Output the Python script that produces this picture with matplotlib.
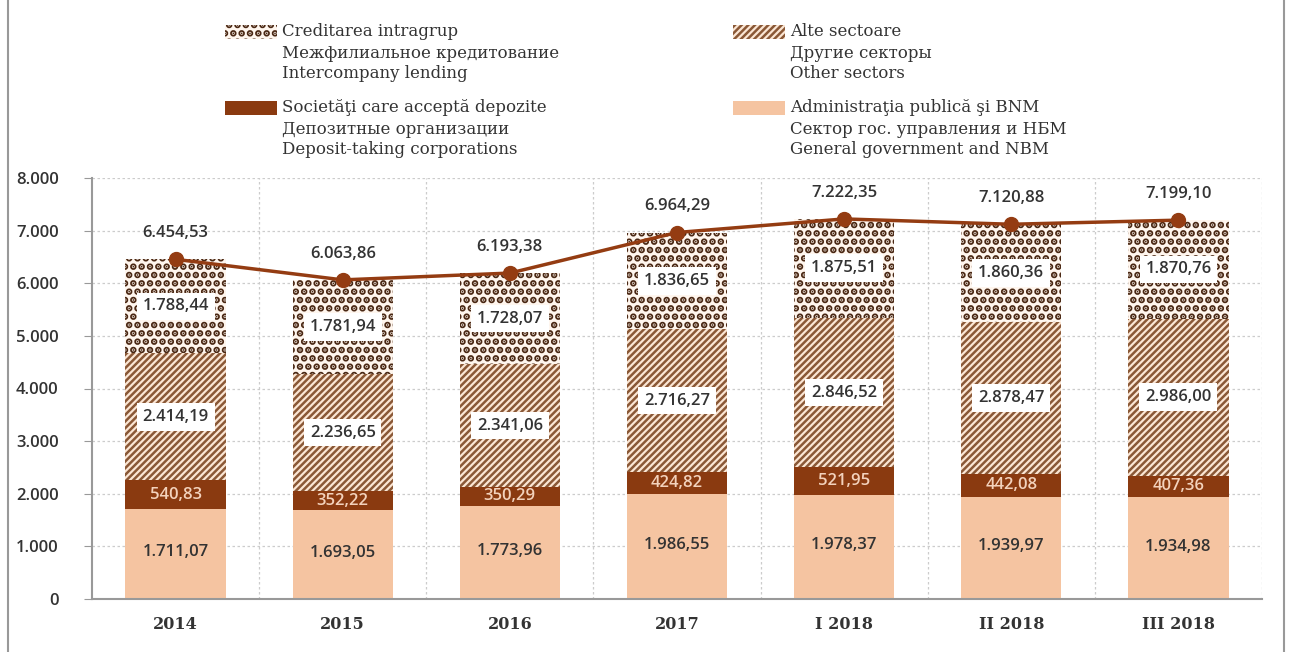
import matplotlib
matplotlib.use("Agg")
import matplotlib.pyplot as plt
from matplotlib.lines import Line2D
from matplotlib.patches import Rectangle

categories = ["2014", "2015", "2016", "2017", "I 2018", "II 2018", "III 2018"]
gov_nbm = [1711.07, 1693.05, 1773.96, 1986.55, 1978.37, 1939.97, 1934.98]
deposit = [540.83, 352.22, 350.29, 424.82, 521.95, 442.08, 407.36]
other = [2414.19, 2236.65, 2341.06, 2716.27, 2846.52, 2878.47, 2986.00]
intercompany = [1788.44, 1781.94, 1728.07, 1836.65, 1875.51, 1860.36, 1870.76]
total = [6454.53, 6063.86, 6193.38, 6964.29, 7222.35, 7120.88, 7199.10]
yticks = [0, 1000, 2000, 3000, 4000, 5000, 6000, 7000, 8000]

leg_inter = ["Creditarea intragrup", "Межфилиальное кредитование", "Intercompany lending"]
leg_other = ["Alte sectoare", "Другие секторы", "Other sectors"]
leg_dep = ["Societăţi care acceptă depozite", "Депозитные организации", "Deposit-taking corporations"]
leg_gov = ["Administraţia publică şi BNM", "Сектор гос. управления и НБМ", "General government and NBM"]

C_PEACH = "#F5C4A1"
C_DEP = "#8A3A10"
C_STRIPE = "#8A5836"
C_STRIPE_BG = "#FBE6D4"
C_DOT = "#4A2814"
C_DOT_BG = "#FFF6EE"
C_LINE = "#943C12"
C_TXT = "#333333"
SERIF = "DejaVu Serif"
SANS = "Open Sans"
HATCH_STRIPE = "/////"
HATCH_DOT = ".."
LW_STRIPE = 1.8
LW_DOT = 3.4


def fmt(v):
    s = f"{v:,.2f}"
    return s.replace(",", "X").replace(".", ",").replace("X", ".")


def fmt_int(v):
    return f"{int(v):,}".replace(",", ".")


W, H = 1291, 652
fig = plt.figure(figsize=(W / 100, H / 100), dpi=100)
ax = fig.add_axes([92 / W, 1 - 599 / H, (1262 - 92) / W, (599 - 178) / H])

x = list(range(len(categories)))
bw = 0.6

ax.bar(x, gov_nbm, bw, color=C_PEACH, edgecolor="none", zorder=2)
bot1 = [g for g in gov_nbm]
ax.bar(x, deposit, bw, bottom=bot1, color=C_DEP, edgecolor="none", zorder=2)
bot2 = [g + d for g, d in zip(gov_nbm, deposit)]
with plt.rc_context({"hatch.linewidth": LW_STRIPE, "hatch.color": C_STRIPE}):
    ax.bar(x, other, bw, bottom=bot2, color=C_STRIPE_BG, edgecolor=C_STRIPE,
           hatch=HATCH_STRIPE, linewidth=0, zorder=2)
bot3 = [a + o for a, o in zip(bot2, other)]
with plt.rc_context({"hatch.linewidth": LW_DOT, "hatch.color": C_DOT}):
    ax.bar(x, intercompany, bw, bottom=bot3, color=C_DOT_BG, edgecolor=C_DOT,
           hatch=HATCH_DOT, linewidth=0, zorder=2)

ax.plot(x, total, color=C_LINE, lw=2.5, marker="o", markersize=10, zorder=4)

for i in x:
    ax.text(i, gov_nbm[i] / 2 + 30, fmt(gov_nbm[i]), ha="center", va="center",
            fontsize=12, family=SANS, fontweight="semibold", color=C_TXT, zorder=5)
    ax.text(i, bot1[i] + deposit[i] / 2, fmt(deposit[i]), ha="center", va="center",
            fontsize=12, family=SANS, fontweight="semibold", color="#F3D2BC", zorder=5)
    ax.text(i, bot2[i] + other[i] / 2, fmt(other[i]), ha="center", va="center",
            fontsize=12, family=SANS, fontweight="semibold", color=C_TXT, zorder=5,
            bbox=dict(boxstyle="square,pad=0.35", fc="white", ec="none"))
    ax.text(i, bot3[i] + intercompany[i] / 2, fmt(intercompany[i]), ha="center", va="center",
            fontsize=12, family=SANS, fontweight="semibold", color=C_TXT, zorder=5,
            bbox=dict(boxstyle="square,pad=0.35", fc="white", ec="none"))
    ax.annotate(fmt(total[i]), (i, total[i]), xytext=(0, 19), textcoords="offset points",
                ha="center", va="center", fontsize=12, family=SANS,
                fontweight="semibold", color=C_TXT, zorder=5)

ax.set_xlim(-0.5, len(categories) - 0.5)
ax.set_ylim(0, 8000)
ax.set_yticks(yticks)
ax.set_yticklabels([fmt_int(v) for v in yticks], family=SANS, fontweight="semibold",
                   fontsize=12, color=C_TXT)
ax.set_xticks(x)
ax.set_xticklabels(categories, family=SERIF, fontweight="bold", fontsize=11.5, color=C_TXT)
ax.tick_params(axis="x", length=0, pad=12)
ax.tick_params(axis="y", length=6, color="#999999", pad=18)

for v in yticks[1:]:
    ax.axhline(v, color="#cccccc", lw=0.9, ls=(0, (2, 2)), zorder=1)
for s in [i + 0.5 for i in x[:-1]] + [len(categories) - 0.5]:
    ax.axvline(s, color="#cccccc", lw=0.9, ls=(0, (2, 2)), zorder=1)

for sp in ["top", "right"]:
    ax.spines[sp].set_visible(False)
ax.spines["left"].set_color("#999999")
ax.spines["bottom"].set_color("#999999")
ax.spines["left"].set_linewidth(1.5)
ax.spines["bottom"].set_linewidth(1.5)


def legend_item(x0, y0, lines, kind):
    hx, hy, hw, hh = x0 / W, 1 - (y0 + 7) / H, 52 / W, 14 / H
    if kind == "dots":
        with plt.rc_context({"hatch.linewidth": LW_DOT, "hatch.color": C_DOT}):
            p = Rectangle((hx, hy), hw, hh, transform=fig.transFigure, fc=C_DOT_BG,
                          ec=C_DOT, hatch=HATCH_DOT, lw=0)
    elif kind == "stripes":
        with plt.rc_context({"hatch.linewidth": LW_STRIPE, "hatch.color": C_STRIPE}):
            p = Rectangle((hx, hy), hw, hh, transform=fig.transFigure, fc=C_STRIPE_BG,
                          ec=C_STRIPE, hatch=HATCH_STRIPE, lw=0)
    else:
        p = Rectangle((hx, hy), hw, hh, transform=fig.transFigure,
                      fc=C_DEP if kind == "dep" else C_PEACH, ec="none")
    fig.patches.append(p)
    for k, t in enumerate(lines):
        fig.text((x0 + 57) / W, 1 - (y0 + k * 21) / H, t, ha="left", va="center",
                 fontsize=12, family=SERIF, color=C_TXT)


legend_item(225, 32, leg_inter, "dots")
legend_item(733, 32, leg_other, "stripes")
legend_item(225, 108, leg_dep, "dep")
legend_item(733, 108, leg_gov, "gov")

fig.add_artist(Line2D([8 / W, 8 / W], [0, 1], transform=fig.transFigure, color="#999999", lw=1.5))
fig.add_artist(Line2D([1284 / W, 1284 / W], [0, 1], transform=fig.transFigure, color="#999999", lw=1.5))

fig.savefig("out.png", dpi=100, facecolor="white")
